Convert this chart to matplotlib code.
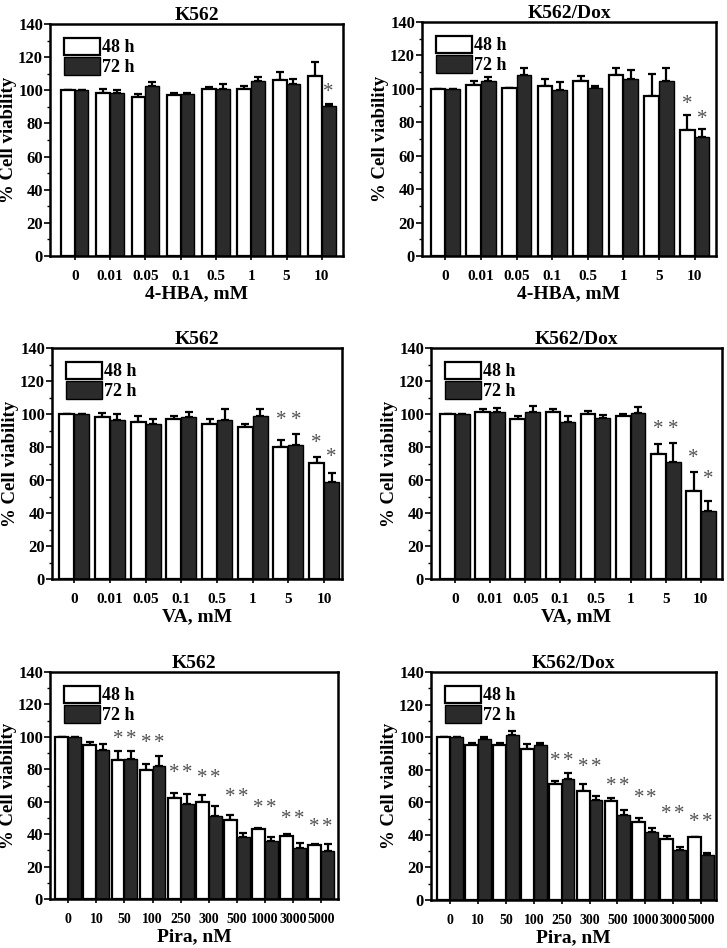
import matplotlib
matplotlib.use("Agg")
import matplotlib.pyplot as plt
from matplotlib.patches import Patch
from matplotlib.ticker import MultipleLocator
import numpy as np

plt.rcParams['font.family'] = ['Liberation Serif', 'DejaVu Serif']
plt.rcParams['font.weight'] = 'bold'

DARK = '#2b2b2b'
STAR = '#505050'

# ---- data ----
hba_labels = ['0', '0.01', '0.05', '0.1', '0.5', '1', '5', '10']
va_labels = ['0', '0.01', '0.05', '0.1', '0.5', '1', '5', '10']
pira_labels = ['0', '10', '50', '100', '250', '300', '500', '1000', '3000', '5000']

hba_k562_48 = [100, 98.5, 96, 97, 100.5, 101, 106.5, 108.5]
hba_k562_48_err = [0, 2, 1.5, 1.5, 1.5, 1.5, 4.5, 8.5]
hba_k562_72 = [100, 98.5, 102.5, 97.5, 100.5, 105.5, 103.5, 90.5]
hba_k562_72_err = [0, 1.5, 2.5, 1, 3, 2.5, 3.5, 1]
hba_k562_stars = [(7, 1, 102)]

hba_dox_48 = [100, 102.5, 100.5, 102, 104.5, 108, 96, 75.5]
hba_dox_48_err = [0, 2.5, 0, 4, 3, 4.5, 13, 9]
hba_dox_72 = [100, 105, 108, 99.5, 100.5, 106, 105, 71]
hba_dox_72_err = [0, 2, 4.5, 4.5, 1, 5, 7.5, 5]
hba_dox_stars = [(7, 0, 94), (7, 1, 85)]

va_k562_48 = [100, 98, 95, 97, 94, 92, 80, 70.5]
va_k562_48_err = [0, 2.5, 3.5, 1.5, 3, 2, 4, 3.5]
va_k562_72 = [100, 96.5, 94, 98, 96.5, 99, 81.5, 58.5]
va_k562_72_err = [0, 3.5, 3, 3, 6.5, 4, 6.5, 5.5]
va_k562_stars = [(6, 0, 99.5), (6, 1, 99.5), (7, 0, 85.5), (7, 1, 77)]

va_dox_48 = [100, 101.5, 97, 101.5, 100, 98.5, 75.5, 53.5]
va_dox_48_err = [0, 1.5, 1.5, 1.5, 2, 1.5, 6.5, 11.5]
va_dox_72 = [100, 101, 101, 95, 97.5, 100.5, 71, 41.5]
va_dox_72_err = [0, 2.5, 4, 4, 2, 3.5, 11.5, 6]
va_dox_stars = [(6, 0, 93.5), (6, 1, 93.5), (7, 0, 76), (7, 1, 63.5)]

pira_k562_48 = [100, 95, 86, 79.5, 62, 60, 48.5, 43, 39, 33.5]
pira_k562_48_err = [0, 2, 5, 3.5, 3.5, 4, 3.5, 1, 1, 0.5]
pira_k562_72 = [100, 92, 86.5, 82, 58.5, 51, 38, 35.5, 31.5, 29.5]
pira_k562_72_err = [0, 3.5, 4.5, 6, 6.5, 6.5, 3, 2.5, 3, 4.5]
pira_k562_star_y = [None, None, 101.5, 99, 80.5, 77.5, 66, 59, 52, 47.5]

pira_dox_48 = [100, 95, 95, 92.5, 71.5, 67, 60.5, 48, 37.5, 38.5]
pira_dox_48_err = [0, 1.5, 1.5, 3, 1.5, 4, 2, 2.5, 2, 0]
pira_dox_72 = [100, 99, 101.5, 95, 74.5, 61.5, 52.5, 41.5, 31, 27.5]
pira_dox_72_err = [0, 1, 2.5, 1.5, 3.5, 2.5, 3, 2.5, 1.5, 1.5]
pira_dox_star_y = [None, None, None, None, 88, 84.5, 73, 65.5, 56, 51]


def pair_stars(ys):
    out = []
    for i, y in enumerate(ys):
        if y is not None:
            out += [(i, 0, y), (i, 1, y)]
    return out


W, H = 727, 948
fig = plt.figure(figsize=(W / 100, H / 100), dpi=100)


def add_panel(px, title, xlabel, labels, v48, e48, v72, e72, stars, width, xlim, xsize=11):
    l, r, t, b = px
    ax = fig.add_axes([l / W, 1 - b / H, (r - l) / W, (b - t) / H])
    x = np.arange(len(labels))
    ax.bar(x - width / 2, v48, width, color='white', edgecolor='black', linewidth=1.6, zorder=2)
    ax.bar(x + width / 2, v72, width, color=DARK, edgecolor='black', linewidth=1.0, zorder=2)
    ax.errorbar(x - width / 2, v48, yerr=[np.zeros(len(e48)), e48], fmt='none',
                ecolor='black', elinewidth=1.6, capsize=3, capthick=1.6, zorder=1)
    ax.errorbar(x + width / 2, v72, yerr=[np.zeros(len(e72)), e72], fmt='none',
                ecolor='black', elinewidth=1.6, capsize=3, capthick=1.6, zorder=1)
    for gi, bi, y in stars:
        xs = gi - width / 2 if bi == 0 else gi + width / 2
        ax.annotate('*', (xs, y), xytext=(0, -7), textcoords='offset points',
                    ha='center', va='baseline', fontsize=15, color=STAR, fontweight='normal')
    ax.set_xlim(*xlim)
    ax.set_ylim(0, 140)
    ax.set_xticks(x)
    ax.set_xticklabels(labels)
    ax.yaxis.set_major_locator(MultipleLocator(20))
    ax.yaxis.set_minor_locator(MultipleLocator(10))
    ax.tick_params(axis='x', direction='out', length=3, width=1.2, labelsize=xsize, pad=7)
    ax.tick_params(axis='y', which='major', direction='out', length=4, width=1.2, labelsize=12, pad=1)
    ax.tick_params(axis='y', which='minor', direction='out', length=2, width=1.0)
    for s in ax.spines.values():
        s.set_linewidth(1.8)
    ax.set_title(title, fontsize=14, fontweight='bold', pad=3)
    ax.set_xlabel(xlabel, fontsize=14, fontweight='bold', labelpad=2)
    ax.set_ylabel('% Cell viability', fontsize=13.5, fontweight='bold', labelpad=0.5)
    handles = [Patch(facecolor='white', edgecolor='black', linewidth=1.6),
               Patch(facecolor=DARK, edgecolor='black', linewidth=1.0)]
    ax.legend(handles, ['48 h', '72 h'], loc='upper left', frameon=False,
              handlelength=2.0, handleheight=1.1, handletextpad=0.15,
              labelspacing=0.05, borderaxespad=0.35,
              prop={'weight': 'bold', 'size': 13})
    return ax


add_panel((50, 343, 24, 256), 'K562', '4-HBA, mM', hba_labels,
          hba_k562_48, hba_k562_48_err, hba_k562_72, hba_k562_72_err,
          hba_k562_stars, 0.39, (-0.7, 7.6))
add_panel((422, 716, 22, 256), 'K562/Dox', '4-HBA, mM', hba_labels,
          hba_dox_48, hba_dox_48_err, hba_dox_72, hba_dox_72_err,
          hba_dox_stars, 0.41, (-0.66, 7.6))
add_panel((52, 342, 348, 579), 'K562', 'VA, mM', va_labels,
          va_k562_48, va_k562_48_err, va_k562_72, va_k562_72_err,
          va_k562_stars, 0.42, (-0.62, 7.5))
add_panel((431, 722, 348, 579), 'K562/Dox', 'VA, mM', va_labels,
          va_dox_48, va_dox_48_err, va_dox_72, va_dox_72_err,
          va_dox_stars, 0.42, (-0.68, 7.6))
add_panel((50, 338, 672, 899), 'K562', 'Pira, nM', pira_labels,
          pira_k562_48, pira_k562_48_err, pira_k562_72, pira_k562_72_err,
          pair_stars(pira_k562_star_y), 0.46, (-0.65, 9.6), xsize=10)
add_panel((431, 716, 672, 900), 'K562/Dox', 'Pira, nM', pira_labels,
          pira_dox_48, pira_dox_48_err, pira_dox_72, pira_dox_72_err,
          pair_stars(pira_dox_star_y), 0.46, (-0.69, 9.54), xsize=10)

fig.savefig('out.png', dpi=100)
